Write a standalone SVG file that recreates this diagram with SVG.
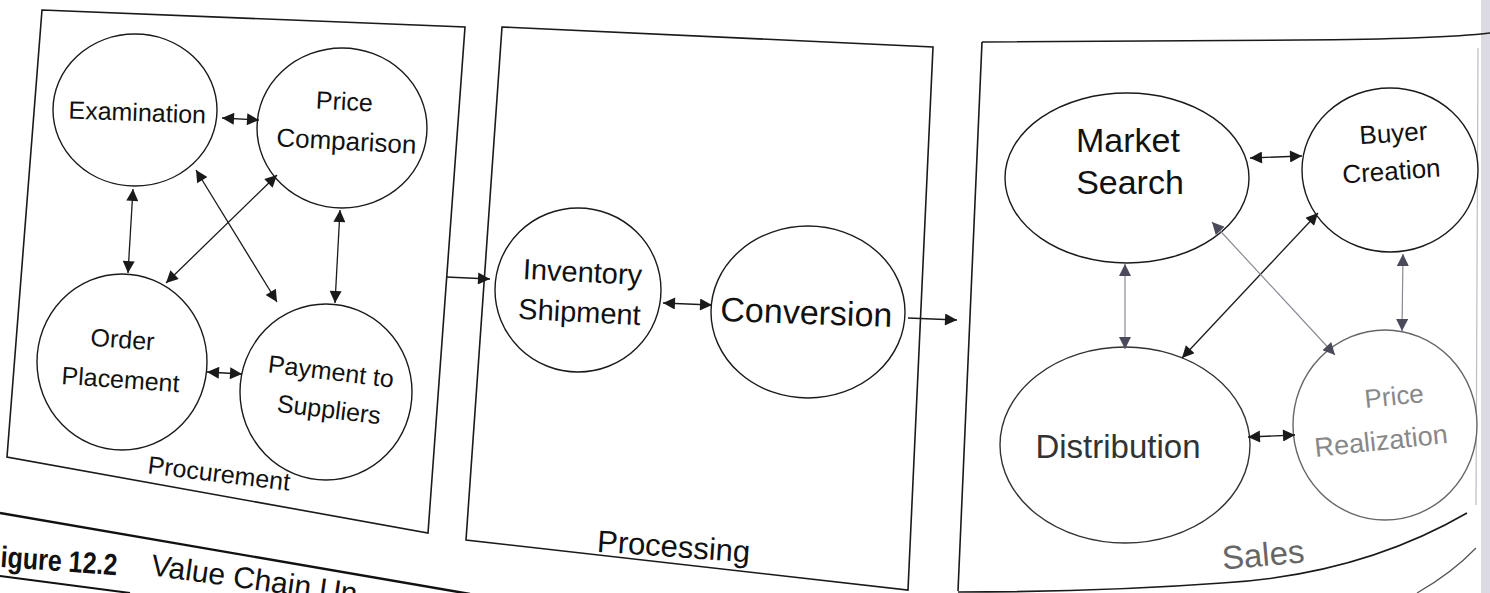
<svg xmlns="http://www.w3.org/2000/svg" width="1490" height="593" viewBox="0 0 1490 593">
<style>
  .box{fill:none;stroke:#1a1a1a;stroke-width:1.6}
  .node{fill:#fff;stroke:#1a1a1a;stroke-width:1.4}
  .t{font-family:"Liberation Sans",Arial,sans-serif;fill:#111;text-anchor:middle}
  .c{stroke:#1a1a1a;stroke-width:1.3;fill:none;marker-start:url(#ah);marker-end:url(#ah)}
  .cg{stroke:#8a8a95;stroke-width:1.2;fill:none;marker-start:url(#ahg);marker-end:url(#ahg)}
  .flow{stroke:#1a1a1a;stroke-width:1.4;fill:none;marker-end:url(#ah)}
</style>
<defs>
  <marker id="ah" viewBox="0 0 10 10" refX="10" refY="5" markerWidth="16" markerHeight="12" markerUnits="userSpaceOnUse" orient="auto-start-reverse"><path d="M0,0 L10,5 L0,10 z" fill="#1a1a1a"/></marker>
  <marker id="ahg" viewBox="0 0 10 10" refX="10" refY="5" markerWidth="16" markerHeight="12" markerUnits="userSpaceOnUse" orient="auto-start-reverse"><path d="M0,0 L10,5 L0,10 z" fill="#4a4a5a"/></marker>
</defs>
<rect width="1490" height="593" fill="#fff"/>
<rect x="1481" y="0" width="9" height="593" fill="#dcdae2"/>

<g id="procurement">
  <polygon class="box" points="42,10 465,27 428,533 7,457"/>
  <text class="t" x="218" y="482" font-size="25" transform="rotate(7 218 482)">Procurement</text>
</g>
<g id="processing">
  <polygon class="box" points="502,27 933,47 908,590 466,540"/>
  <text class="t" x="673" y="557" font-size="31" transform="rotate(4 673 557)">Processing</text>
</g>
<g id="sales">
  <path class="box" d="M982,42 L1300,40 Q1440,39 1490,33"/>
  <path class="box" d="M982,42 L958,591"/>
  <path class="box" d="M958,592 Q1100,592 1222,583 Q1360,575 1467,513"/>
  <path d="M1478,48 L1476,505" stroke="#bdbdc5" stroke-width="1.2" fill="none"/>
  <path d="M1417,593 Q1452,573 1476,548" stroke="#555" stroke-width="1.2" fill="none"/>
  <text class="t" x="1264" y="566" font-size="33" style="fill:#666" transform="rotate(-5 1264 566)">Sales</text>
</g>

<g id="examination">
  <ellipse class="node" cx="135" cy="110" rx="82" ry="76"/>
  <text class="t" x="137" y="121" font-size="25" transform="rotate(2 137 121)">Examination</text>
</g>
<g id="price-comparison">
  <ellipse class="node" cx="342" cy="128" rx="85" ry="80"/>
  <text class="t" x="344" y="110" font-size="25" transform="rotate(3 344 110)">Price</text>
  <text class="t" x="346" y="150" font-size="26" transform="rotate(3 346 150)">Comparison</text>
</g>
<g id="order-placement">
  <ellipse class="node" cx="122" cy="362" rx="85" ry="88"/>
  <text class="t" x="122" y="348" font-size="25" transform="rotate(4 122 348)">Order</text>
  <text class="t" x="120" y="388" font-size="25" transform="rotate(4 120 388)">Placement</text>
</g>
<g id="payment-to-suppliers">
  <ellipse class="node" cx="326" cy="392" rx="86" ry="88"/>
  <text class="t" x="330" y="380" font-size="25" transform="rotate(7 330 380)">Payment to</text>
  <text class="t" x="328" y="418" font-size="25" transform="rotate(7 328 418)">Suppliers</text>
</g>

<g id="inventory-shipment">
  <ellipse class="node" cx="578" cy="290" rx="83" ry="82"/>
  <text class="t" x="582" y="282" font-size="29" transform="rotate(3 582 282)">Inventory</text>
  <text class="t" x="579" y="322" font-size="29" transform="rotate(3 579 322)">Shipment</text>
</g>
<g id="conversion">
  <ellipse class="node" cx="808" cy="312" rx="97" ry="86"/>
  <text class="t" x="806" y="324" font-size="34" transform="rotate(2 806 324)">Conversion</text>
</g>

<g id="market-search">
  <ellipse class="node" cx="1127" cy="178" rx="122" ry="85"/>
  <text class="t" x="1128" y="152" font-size="34">Market</text>
  <text class="t" x="1130" y="194" font-size="34">Search</text>
</g>
<g id="buyer-creation">
  <ellipse class="node" cx="1390" cy="170" rx="88" ry="82"/>
  <text class="t" x="1394" y="142" font-size="26" transform="rotate(-4 1394 142)">Buyer</text>
  <text class="t" x="1392" y="180" font-size="26" transform="rotate(-4 1392 180)">Creation</text>
</g>
<g id="distribution">
  <ellipse class="node" cx="1125" cy="445" rx="125" ry="98" style="stroke:#333"/>
  <text class="t" x="1118" y="458" font-size="33" style="fill:#333">Distribution</text>
</g>
<g id="price-realization">
  <ellipse class="node" cx="1385" cy="425" rx="92" ry="95" style="stroke:#666"/>
  <text class="t" x="1395" y="405" font-size="26" style="fill:#888" transform="rotate(-6 1395 405)">Price</text>
  <text class="t" x="1382" y="450" font-size="27" style="fill:#888" transform="rotate(-6 1382 450)">Realization</text>
</g>

<g id="connectors">
  <line class="c" x1="222" y1="118" x2="259" y2="120"/>
  <line class="c" x1="133" y1="189" x2="128" y2="273"/>
  <line class="c" x1="340" y1="210" x2="335" y2="303"/>
  <line class="c" x1="277" y1="175" x2="166" y2="283"/>
  <line class="c" x1="196" y1="170" x2="277" y2="302"/>
  <line class="c" x1="207" y1="372" x2="242" y2="374"/>
  <line class="flow" x1="446" y1="277" x2="490" y2="279"/>
  <line class="c" x1="663" y1="303" x2="712" y2="305"/>
  <line class="flow" x1="908" y1="318" x2="957" y2="320"/>
  <line class="c" x1="1250" y1="158" x2="1302" y2="156"/>
  <line class="cg" x1="1125" y1="264" x2="1125" y2="349"/>
  <line class="cg" x1="1403" y1="254" x2="1402" y2="331"/>
  <line class="c" x1="1318" y1="213" x2="1182" y2="358"/>
  <line class="cg" x1="1212" y1="222" x2="1335" y2="355"/>
  <line class="c" x1="1248" y1="437" x2="1295" y2="435"/>
</g>

<g id="caption">
  <path d="M0,513 L470,594" stroke="#111" stroke-width="2.4" fill="none"/>
  <path d="M0,576 L130,593" stroke="#111" stroke-width="2" fill="none"/>
  <text x="0" y="567" font-family="Liberation Sans, Arial, sans-serif" font-weight="bold" font-size="30" fill="#111" textLength="117" lengthAdjust="spacingAndGlyphs" transform="rotate(4 0 567)">igure 12.2</text>
  <text x="150" y="575" font-family="Liberation Sans, Arial, sans-serif" font-size="30" fill="#111" transform="rotate(8 150 575)">Value Chain Un</text>
</g>
</svg>
